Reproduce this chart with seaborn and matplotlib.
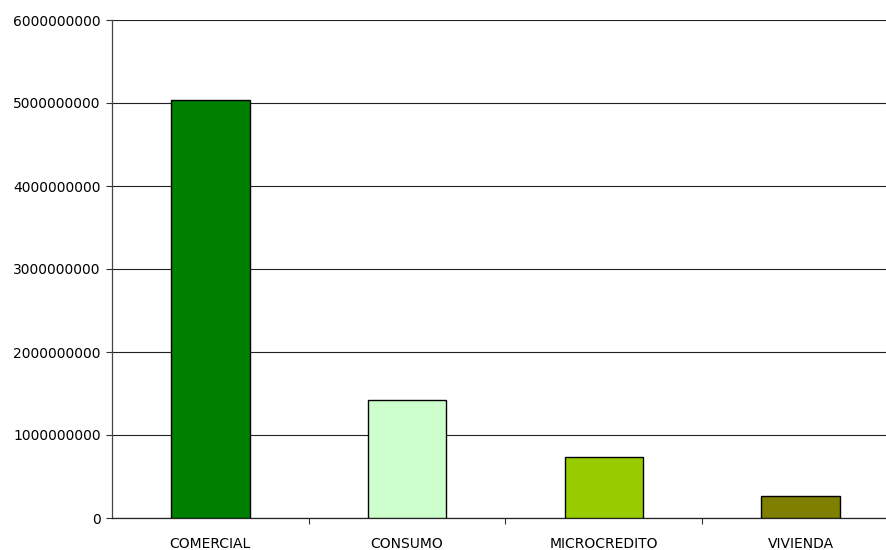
import matplotlib
matplotlib.use("Agg")
import matplotlib.pyplot as plt
import seaborn as sns
import pandas as pd
from matplotlib.ticker import FixedLocator

categories = ["COMERCIAL", "CONSUMO", "MICROCREDITO", "VIVIENDA"]
values = [5040000000, 1420000000, 740000000, 260000000]
colors = ["#008000", "#CCFFCC", "#99CC00", "#808000"]
yticks = [0, 1000000000, 2000000000, 3000000000, 4000000000, 5000000000, 6000000000]

sns.set_theme(style="white")
plt.rcParams["font.family"] = ["DejaVu Sans"]

df = pd.DataFrame({"categoria": categories, "monto": values})

fig = plt.figure(figsize=(8.87, 5.5), dpi=100)
# axes extends slightly past the right edge of the canvas
ax = fig.add_axes([112 / 887, 32 / 550, 787 / 887, 498 / 550])

sns.barplot(data=df, x="categoria", y="monto", hue="categoria",
            palette=colors, legend=False, width=0.4, saturation=1,
            edgecolor="black", linewidth=1.0, ax=ax, zorder=3)

ax.set_xlim(-0.5, 3.5)
ax.set_ylim(0, 6000000000)
ax.set_yticks(yticks)
ax.set_yticklabels([str(v) for v in yticks])
ax.yaxis.grid(True, color="#222222", linewidth=0.8, zorder=0)
ax.set_axisbelow(True)

ax.xaxis.set_minor_locator(FixedLocator([0.5, 1.5, 2.5, 3.5]))
ax.tick_params(axis="x", which="major", length=0, pad=14, labelsize=10, colors="black")
ax.tick_params(axis="x", which="minor", length=4, width=0.8, color="#333333", direction="out", bottom=True)
ax.tick_params(axis="y", which="major", length=4, width=0.8, color="#333333", direction="out",
               left=True, pad=4, labelsize=10, labelcolor="black")

ax.set_xlabel("")
ax.set_ylabel("")
for side in ["top", "right"]:
    ax.spines[side].set_visible(False)
ax.spines["left"].set_color("#444444")
ax.spines["left"].set_linewidth(0.9)
ax.spines["bottom"].set_color("#222222")
ax.spines["bottom"].set_linewidth(0.9)

fig.savefig("out.png", dpi=100)
